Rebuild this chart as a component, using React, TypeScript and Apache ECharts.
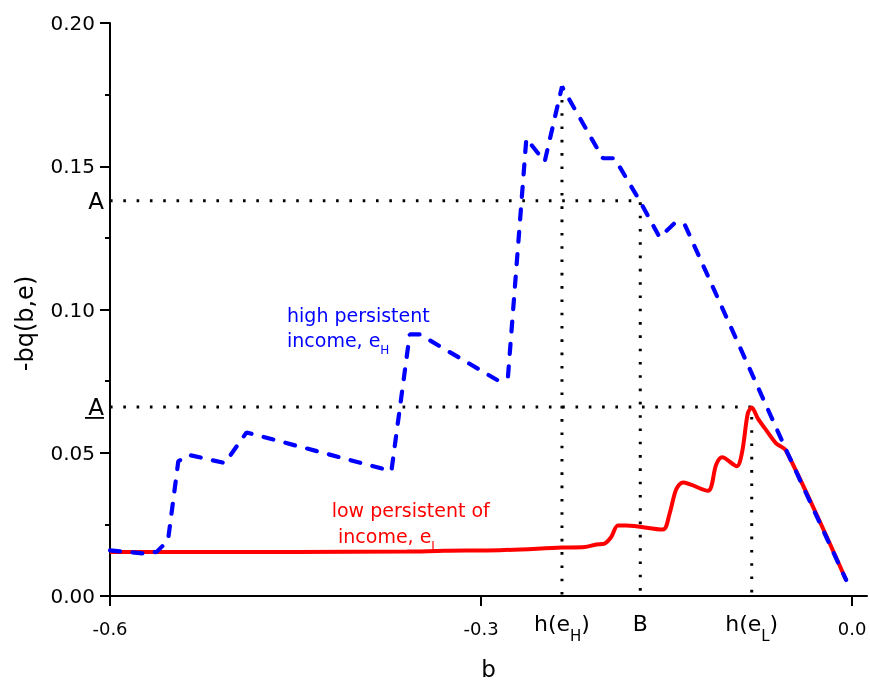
import React, { useEffect, useRef } from 'react';
import * as echarts from 'echarts';

// ---- data ----
const xTickValues = [-0.6, -0.3, 0.0];
const xMarkerValues = [-0.2346, -0.1713, -0.0812];
const xMarkerLabels = ['{m|h(e}{s|H}{m|)}', '{m|B}', '{m|h(e}{s|L}{m|)}'];
const yTickValues = [0, 0.05, 0.1, 0.15, 0.2];
const yLevelA = 0.138;
const yLevelAUnder = 0.066;
const peakHighY = 0.1778;

const highX = [-0.6, -0.5717, -0.5623, -0.5531, -0.5448, -0.5367, -0.5071, -0.4896, -0.3725, -0.3577, -0.3496, -0.2863, -0.2783, -0.2634, -0.2486, -0.2346, -0.2069, -0.2015, -0.1921, -0.1713, -0.1557, -0.1431, -0.1355, -0.0534, -0.0049];
const highY = [0.0159, 0.0148, 0.0154, 0.0194, 0.047, 0.0493, 0.0464, 0.0571, 0.0436, 0.0913, 0.0913, 0.0752, 0.0763, 0.1597, 0.1516, 0.1778, 0.1568, 0.1528, 0.1528, 0.1376, 0.1252, 0.1303, 0.1298, 0.051, 0.0056];

const lowX = [-0.6, -0.45, -0.36, -0.33, -0.285, -0.2346, -0.2163, -0.2069, -0.2002, -0.1948, -0.1894, -0.1826, -0.153, -0.1477, -0.1423, -0.1369, -0.1167, -0.1099, -0.1051, -0.0933, -0.0889, -0.0844, -0.0812, -0.0763, -0.0695, -0.0615, -0.0534, -0.0049];
const lowY = [0.0154, 0.0154, 0.0155, 0.0158, 0.016, 0.0169, 0.0171, 0.018, 0.0183, 0.0206, 0.0246, 0.0246, 0.0232, 0.0286, 0.0372, 0.0396, 0.0367, 0.0459, 0.0484, 0.0453, 0.0504, 0.0637, 0.0658, 0.062, 0.0579, 0.0533, 0.0507, 0.0056];

const FONT = 'DejaVu Sans';

function zip(xs: number[], ys: number[]) {
  return xs.map((x, i) => [x, ys[i]]);
}

export default function App() {
  const ref = useRef<HTMLDivElement>(null);
  useEffect(() => {
    if (!ref.current) return;
    const chart = echarts.init(ref.current, undefined, { renderer: 'svg' });
    const dotted = { color: '#000', width: 3, type: [2.6, 10.7] as number[] };
    const hB = xMarkerValues[1];
    const hH = xMarkerValues[0];
    const hL = xMarkerValues[2];
    const option: any = {
      animation: false,
      textStyle: { fontFamily: FONT },
      grid: { left: 110, right: 3, top: 23, bottom: 82, containLabel: false },
      xAxis: {
        type: 'value',
        min: -0.6,
        max: 0.012,
        interval: 0.3,
        name: 'b',
        nameLocation: 'middle',
        nameGap: 61,
        nameTextStyle: { fontSize: 23, color: '#000', fontFamily: FONT },
        axisLine: { show: true, onZero: false, lineStyle: { color: '#000', width: 2 } },
        axisTick: { show: true, length: 10, customValues: xTickValues, lineStyle: { color: '#000', width: 2 } },
        splitLine: { show: false },
        axisLabel: {
          show: true,
          margin: 21,
          color: '#000',
          customValues: [...xTickValues, ...xMarkerValues].sort((a, b) => a - b),
          formatter: (v: number) => {
            const i = xMarkerValues.findIndex((m) => Math.abs(m - v) < 1e-6);
            if (i >= 0) return xMarkerLabels[i];
            return '{t|' + v.toFixed(1) + '}';
          },
          rich: {
            t: { fontSize: 18, lineHeight: 18, padding: [9, 0, 5, 0], color: '#000', fontFamily: FONT },
            m: { fontSize: 22, lineHeight: 22, padding: [0, 0, 10, 0], color: '#000', fontFamily: FONT },
            s: { fontSize: 15, lineHeight: 15, padding: [16.5, 0, 0.5, 0], color: '#000', fontFamily: FONT },
          },
        },
      },
      yAxis: [
        {
          type: 'value',
          min: 0,
          max: 0.2,
          interval: 0.05,
          position: 'left',
          name: '-bq(b,e)',
          nameLocation: 'middle',
          nameGap: 73,
          nameRotate: 90,
          nameTextStyle: { fontSize: 24, color: '#000', fontFamily: FONT, padding: [0, 28, 0, 0] },
          axisLine: { show: true, onZero: false, lineStyle: { color: '#000', width: 2 } },
          axisTick: { show: true, length: 10, lineStyle: { color: '#000', width: 2 } },
          minorTick: { show: true, splitNumber: 2, length: 5, lineStyle: { color: '#000', width: 2 } },
          splitLine: { show: false },
          minorSplitLine: { show: false },
          axisLabel: {
            margin: 15,
            fontSize: 20,
            color: '#000',
            fontFamily: FONT,
            customValues: yTickValues,
            formatter: (v: number) => v.toFixed(2),
          },
        },
        {
          type: 'value',
          min: 0,
          max: 0.2,
          position: 'left',
          axisLine: { show: false },
          axisTick: { show: false },
          splitLine: { show: false },
          axisLabel: {
            margin: 6,
            fontSize: 23,
            color: '#000',
            fontFamily: FONT,
            customValues: [yLevelAUnder, yLevelA],
            formatter: () => 'A',
          },
        },
      ],
      series: [
        {
          type: 'line',
          name: 'guideA',
          data: [[-0.6, yLevelA], [hB, yLevelA], [hB, 0]],
          symbol: 'none',
          silent: true,
          lineStyle: dotted,
          z: 1,
        },
        {
          type: 'line',
          name: 'guideAUnder',
          data: [[-0.6, yLevelAUnder], [hL, yLevelAUnder], [hL, 0]],
          symbol: 'none',
          silent: true,
          lineStyle: dotted,
          z: 1,
        },
        {
          type: 'line',
          name: 'guideH',
          data: [[hH, peakHighY], [hH, 0]],
          symbol: 'none',
          silent: true,
          lineStyle: dotted,
          z: 1,
        },
        {
          type: 'line',
          name: 'low persistent',
          data: zip(lowX, lowY),
          symbol: 'none',
          smooth: 0.3,
          lineStyle: { color: '#ff0000', width: 4 },
          z: 2,
        },
        {
          type: 'line',
          name: 'high persistent',
          data: zip(highX, highY),
          symbol: 'none',
          lineStyle: { color: '#0000ff', width: 4.2, type: [10, 12.5], cap: 'round' },
          z: 3,
        },
      ],
    };
    chart.setOption(option);

    const yU = chart.convertToPixel({ yAxisIndex: 0 }, yLevelAUnder) as number;
    const richBlue = {
      a: { fontSize: 19, lineHeight: 18, padding: [0, 0, 7, 0], fill: '#0000ff', fontFamily: FONT },
      s: { fontSize: 12, lineHeight: 12, padding: [13, 0, 0, 0], fill: '#0000ff', fontFamily: FONT },
    };
    const richRed = {
      a: { fontSize: 19, lineHeight: 18, padding: [0, 0, 7, 0], fill: '#ff0000', fontFamily: FONT },
      s: { fontSize: 12, lineHeight: 12, padding: [13, 0, 0, 0], fill: '#ff0000', fontFamily: FONT },
    };
    chart.setOption({
      graphic: [
        { type: 'line', shape: { x1: 85, y1: yU + 11, x2: 104, y2: yU + 11 }, style: { stroke: '#000', lineWidth: 1.8 } },
        { type: 'text', x: 287, y: 309, style: { text: '{a|high persistent}', rich: richBlue, fill: '#0000ff', verticalAlign: 'top', align: 'left' } },
        { type: 'text', x: 287, y: 334, style: { text: '{a|income, e}{s|H}', rich: richBlue, fill: '#0000ff', verticalAlign: 'top', align: 'left' } },
        { type: 'text', x: 331.7, y: 504.5, style: { text: '{a|low persistent of}', rich: richRed, fill: '#ff0000', verticalAlign: 'top', align: 'left' } },
        { type: 'text', x: 338, y: 530, style: { text: '{a|income, e}{s|L}', rich: richRed, fill: '#ff0000', verticalAlign: 'top', align: 'left' } },
      ],
    });
    return () => chart.dispose();
  }, []);
  return <div ref={ref} style={{ position: 'fixed', left: 0, top: 0, width: 870, height: 685 }} />;
}
